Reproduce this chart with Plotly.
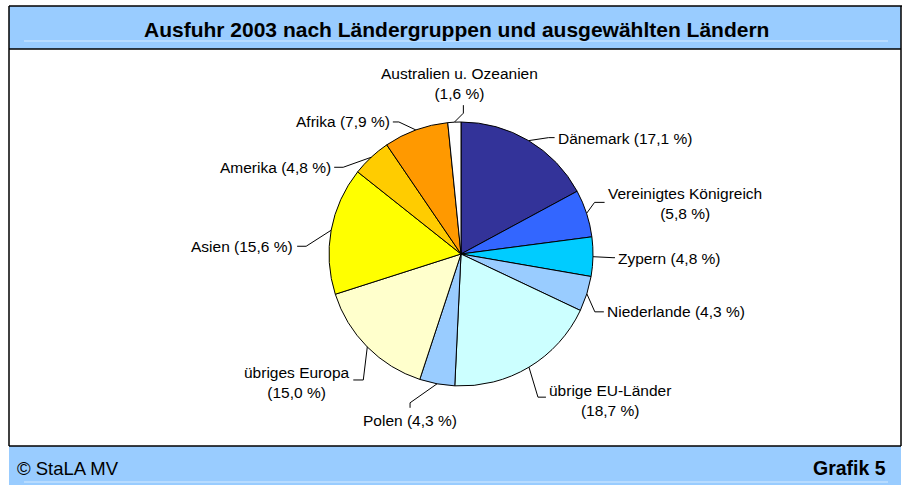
import math
import plotly.graph_objects as go

# ---------------- data ----------------
countries = ["Dänemark", "Vereinigtes Königreich", "Zypern", "Niederlande",
             "übrige EU-Länder", "Polen", "übriges Europa", "Asien",
             "Amerika", "Afrika", "Australien u. Ozeanien"]
shares = [17.1, 5.8, 4.8, 4.3, 18.7, 4.3, 15.0, 15.6, 4.8, 7.9, 1.6]
title_text = "Ausfuhr 2003 nach Ländergruppen und ausgewählten Ländern"
source_text = "© StaLA MV"
chart_no_text = "Grafik 5"

# ---------------- styles ----------------
colors = ["#333399", "#3366FF", "#00CCFF", "#99CCFF", "#CCFFFF", "#99CCFF",
          "#FFFFCC", "#FFFF00", "#FFCC00", "#FF9900", "#FFFFFF"]
# per label: elbow offset, end offset (from slice-arc midpoint), text offset (from end),
# xanchor, yanchor, line break before the percentage
leader_layout = [
    (20, -3, 26, -3, 1, 1, "left", "middle", False),
    (8, -11, 18, -11, 1, 1, "left", "middle", True),
    (20, 1, 22, 1, 1, 1, "left", "middle", False),
    (8, 18, 17, 18, 1, 0, "left", "middle", False),
    (9, 30, 17, 30, 1, 3, "left", "middle", True),
    (-27, 19, -27, 24, 0, 2, "center", "top", False),
    (-4, 33, -14, 33, -1, 3, "right", "middle", True),
    (-25, 16, -34, 16, -2, 0, "right", "middle", False),
    (-28, 10, -37, 10, -1, 0, "right", "middle", False),
    (-17, -8, -23, -8, -1, 0, "right", "middle", False),
    (9, -9, 9, -17, -4, -1, "center", "bottom", True),
]

W, H = 907, 485
CX, CY, R = 461, 254, 132
FONT = "Liberation Sans, Arial, sans-serif"
BAND = "#99CCFF"


def px(x):
    return x / W


def py(y):
    return 1 - y / H


fig = go.Figure(go.Pie(
    values=shares, labels=countries, sort=False, direction="clockwise",
    rotation=0, textinfo="none", hoverinfo="label+percent", showlegend=False,
    marker=dict(colors=colors, line=dict(color="black", width=1)),
    domain=dict(x=[px(CX - R), px(CX + R)], y=[py(CY + R), py(CY - R)]),
))

shapes = []
annotations = []

# frame / bands
shapes.append(dict(type="rect", xref="paper", yref="paper", x0=px(9), x1=px(901),
                   y0=py(6), y1=py(49), fillcolor=BAND, line=dict(width=0), layer="below"))
shapes.append(dict(type="rect", xref="paper", yref="paper", x0=px(9), x1=px(901),
                   y0=py(446), y1=py(485), fillcolor=BAND, line=dict(width=0), layer="below"))
for (x0, y0, x1, y1) in [(9, 6, 902, 6), (9, 6, 9, 446), (901, 6, 901, 446),
                         (9, 49, 901, 49), (9, 446, 901, 446)]:
    shapes.append(dict(type="line", xref="paper", yref="paper", x0=px(x0), y0=py(y0),
                       x1=px(x1), y1=py(y1), line=dict(color="black", width=1.5)))
shapes.append(dict(type="line", xref="paper", yref="paper", x0=px(24), y0=py(41),
                   x1=px(888), y1=py(41), line=dict(color="#D6EBFF", width=1)))
shapes.append(dict(type="line", xref="paper", yref="paper", x0=px(24), y0=py(482),
                   x1=px(888), y1=py(482), line=dict(color="#D6EBFF", width=1)))

# labels with leader lines, anchored at each slice's arc midpoint
total = sum(shares)
cum = 0.0
for name, val, lay in zip(countries, shares, leader_layout):
    mid = (cum + val / 2) / total * 2 * math.pi
    cum += val
    ax = CX + R * math.sin(mid)
    ay = CY - R * math.cos(mid)
    ex1, ey1, ex2, ey2, tdx, tdy, xa, ya, brk = lay
    e1x, e1y = ax + ex1, ay + ey1
    e2x, e2y = ax + ex2, ay + ey2
    path = f"M {px(ax)} {py(ay)} L {px(e1x)} {py(e1y)} L {px(e2x)} {py(e2y)}"
    shapes.append(dict(type="path", xref="paper", yref="paper", path=path,
                       line=dict(color="black", width=1)))
    pct = f"({val:.1f} %)".replace(".", ",")
    txt = f"{name}<br>{pct}" if brk else f"{name} {pct}"
    annotations.append(dict(xref="paper", yref="paper", x=px(e2x + tdx), y=py(e2y + tdy),
                            text=txt, showarrow=False, xanchor=xa, yanchor=ya,
                            align="center", font=dict(family=FONT, size=15.5, color="black")))

annotations.append(dict(xref="paper", yref="paper", x=px(456), y=py(29), text=f"<b>{title_text}</b>",
                        showarrow=False, xanchor="center", yanchor="middle",
                        font=dict(family=FONT, size=21, color="black")))
annotations.append(dict(xref="paper", yref="paper", x=px(15), y=py(468), text=source_text,
                        showarrow=False, xanchor="left", yanchor="middle",
                        font=dict(family=FONT, size=18.5, color="black")))
annotations.append(dict(xref="paper", yref="paper", x=px(888), y=py(468), text=f"<b>{chart_no_text}</b>",
                        showarrow=False, xanchor="right", yanchor="middle",
                        font=dict(family=FONT, size=19.5, color="black")))

fig.update_layout(
    width=W, height=H, margin=dict(l=0, r=0, t=0, b=0),
    paper_bgcolor="white", plot_bgcolor="white",
    shapes=shapes, annotations=annotations,
)

fig.write_html("out.html", config={"displayModeBar": False},
               post_script="document.body.style.margin='0';")
